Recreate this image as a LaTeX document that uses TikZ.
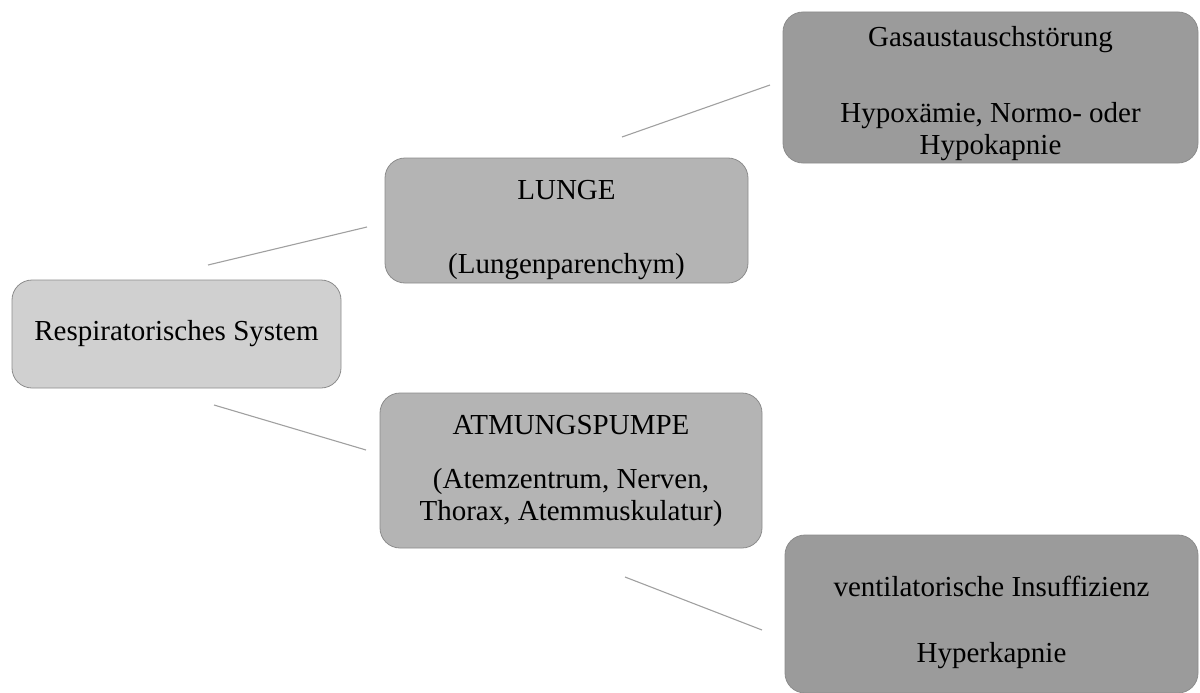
\documentclass[tikz,border=0pt]{standalone}
\usepackage{fontspec}
\setmainfont{Liberation Serif}
\definecolor{rootfill}{HTML}{D0D0D0}
\definecolor{midfill}{HTML}{B4B4B4}
\definecolor{outfill}{HTML}{9B9B9B}
\definecolor{boxline}{HTML}{8C8C8C}
\definecolor{connline}{HTML}{A0A0A0}
\begin{document}
\begin{tikzpicture}[x=1pt,y=-1pt,
  box/.style={draw=boxline, line width=0.8pt, rounded corners=20pt, align=center, inner sep=0pt,
    font=\fontsize{29}{32}\selectfont, text=black},
  conn/.style={draw=connline, line width=1.1pt}]
\useasboundingbox (0,0) rectangle (1200,693);
\node[box, fill=rootfill, minimum width=329pt, minimum height=108pt] (root) at (176.5,334) {Respiratorisches System};
\node[box, fill=midfill, minimum width=363pt, minimum height=125pt] (lunge) at (566.5,220.5) {\rule{0pt}{38pt}LUNGE\\[42pt](Lungenparenchym)};
\node[box, fill=midfill, minimum width=382pt, minimum height=155pt] (atm) at (571,470.5) {ATMUNGSPUMPE\\[22pt](Atemzentrum, Nerven,\\Thorax, Atemmuskulatur)};
\node[box, fill=outfill, minimum width=415pt, minimum height=151pt] (gas) at (990.5,87.5) {\rule{0pt}{32pt}Gasaustauschstörung\\[44pt]Hypoxämie, Normo- oder\\Hypokapnie};
\node[box, fill=outfill, minimum width=413pt, minimum height=158pt] (vent) at (991.5,614) {\rule{0pt}{38pt}ventilatorische Insuffizienz\\[34pt]Hyperkapnie};
\coordinate (c1a) at (208,265);
\coordinate (c1b) at (367,227);
\coordinate (c2a) at (214,405);
\coordinate (c2b) at (366,450);
\coordinate (c3a) at (622,137);
\coordinate (c3b) at (770,85);
\coordinate (c4a) at (625,577);
\coordinate (c4b) at (762,630);
\draw[conn] (c1a) -- (c1b);
\draw[conn] (c2a) -- (c2b);
\draw[conn] (c3a) -- (c3b);
\draw[conn] (c4a) -- (c4b);
\end{tikzpicture}
\end{document}
